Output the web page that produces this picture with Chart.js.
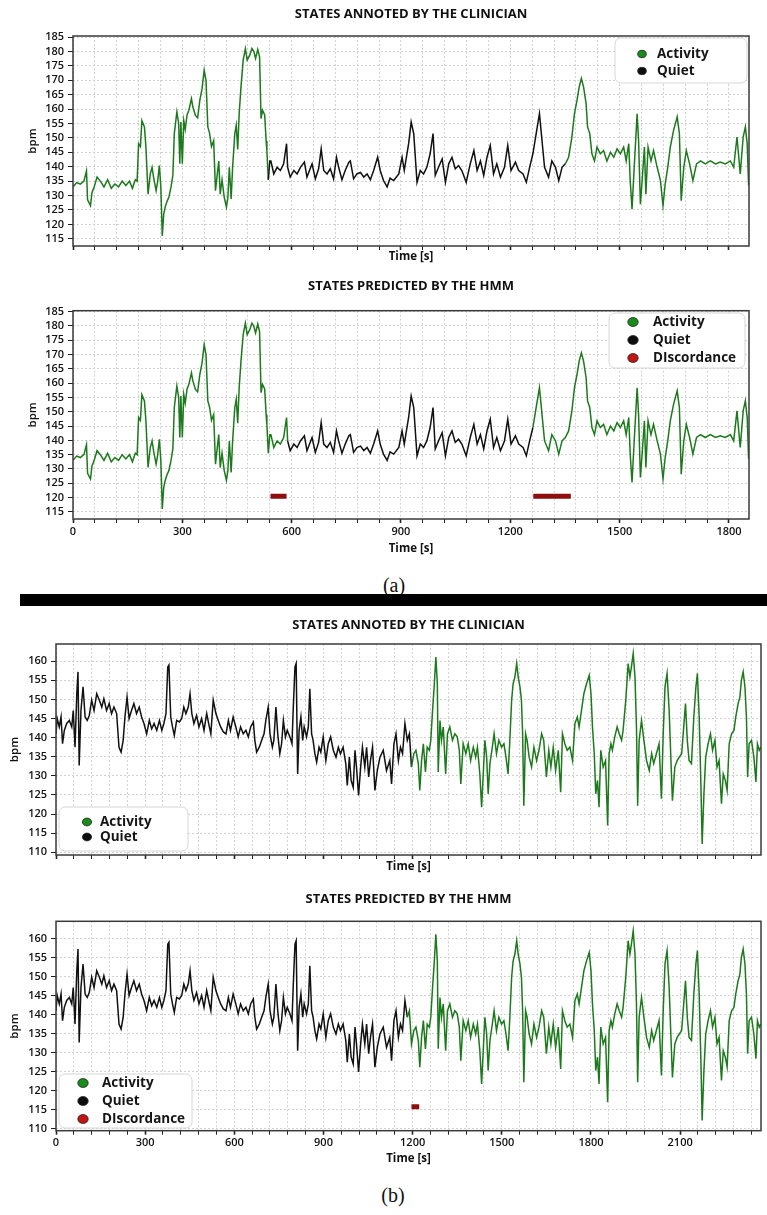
<!DOCTYPE html>
<html>
<head>
<meta charset="utf-8">
<script src="https://cdn.jsdelivr.net/npm/chart.js@4.4.0/dist/chart.umd.min.js"></script>
<style>
  body { margin: 0; background: #fff; width: 767px; height: 1215px; position: relative; overflow: hidden; }
  .box { position: absolute; left: 0; width: 767px; }
  .cap { position: absolute; font-family: "Liberation Serif", serif; font-size: 20px; color: #111; transform: translateX(-50%); }
  #sep { position: absolute; left: 20px; top: 594px; width: 747px; height: 12px; background: #000; }
</style>
</head>
<body>
<div class="box" style="top:0;height:270px"><canvas id="a1"></canvas></div>
<div class="box" style="top:270px;height:290px"><canvas id="a2"></canvas></div>
<div class="cap" style="left:394px;top:574px">(a)</div>
<div id="sep"></div>
<div class="box" style="top:608px;height:272px"><canvas id="b1"></canvas></div>
<div class="box" style="top:880px;height:290px"><canvas id="b2"></canvas></div>
<div class="cap" style="left:393px;top:1184px">(b)</div>

<script>
// ---- record (a) : heart rate, time in s
var aTime = [0, 10, 20, 30, 37, 40, 48, 52, 58, 66, 75, 85, 95, 105, 115, 125, 135, 145, 155, 163,
  171, 176, 180, 185, 189, 196, 200, 206, 212, 217, 221, 228, 232, 237, 241, 245, 249, 253, 258, 263,
  269, 274, 278, 285, 290, 293, 296, 300, 304, 308, 313, 318, 325, 329, 336, 342, 348, 354, 360, 365,
  370, 375, 380, 386, 391, 395, 400, 404, 409, 415, 421, 425, 429, 434, 438, 444, 448, 452, 456, 461,
  467, 473, 478, 485, 491, 496, 501, 507, 512, 516, 520, 526, 530, 532, 536, 540, 543, 551, 560, 569,
  578, 586, 589, 596, 606, 615, 624, 635, 642, 656, 665, 674, 681, 688, 697, 706, 715, 723, 729, 738,
  747, 757, 761, 770, 779, 789, 798, 807, 816, 825, 836, 843, 852, 862, 870, 880, 894, 903, 909, 921,
  928, 935, 944, 953, 962, 971, 980, 988, 994, 1003, 1013, 1022, 1031, 1040, 1049, 1058, 1067, 1079, 1090, 1100,
  1109, 1118, 1127, 1136, 1145, 1154, 1163, 1173, 1184, 1193, 1202, 1214, 1223, 1235, 1244, 1253, 1262, 1271, 1280, 1287,
  1294, 1305, 1314, 1324, 1333, 1342, 1351, 1360, 1369, 1376, 1383, 1389, 1395, 1401, 1408, 1412, 1418, 1424, 1431, 1438,
  1447, 1456, 1465, 1475, 1484, 1493, 1502, 1511, 1518, 1525, 1529, 1534, 1540, 1548, 1552, 1557, 1563, 1568, 1572, 1578,
  1586, 1593, 1603, 1612, 1619, 1625, 1632, 1639, 1648, 1658, 1664, 1669, 1676, 1683, 1692, 1701, 1711, 1722, 1735, 1749,
  1763, 1776, 1790, 1804, 1813, 1822, 1831, 1839, 1845, 1850, 1854];
var aBpm = [133, 134.5, 134, 135, 138.5, 128.5, 126.5, 131, 133, 136.4, 135, 133, 135.5, 132.5, 134, 133, 135, 133.5, 135, 132.5,
  135.5, 135, 148, 147, 156, 153.8, 147, 130.5, 137.5, 139.8, 136.4, 131.7, 134.6, 140.4, 133, 116, 123.6, 126, 128, 129.4,
  133, 137, 151.5, 159, 155, 141, 155.5, 141, 156, 153, 158, 159.6, 163.6, 160.7, 157.8, 157, 163, 167, 173.5, 170,
  153.8, 151.5, 147, 149, 131.7, 136.4, 142, 130.5, 135.5, 129.4, 126, 129.4, 139.8, 128.8, 139.8, 151.5, 154.4, 146, 158.4, 167.7,
  177, 181, 177, 178.7, 181, 180, 177.6, 180.7, 178, 156.7, 159.6, 158, 149, 145.6, 135.5, 142, 142, 137.5, 139.8, 138.7,
  141, 148, 139.8, 136.4, 138.7, 137.5, 139.8, 141.6, 136.4, 141, 135.8, 139.3, 146.2, 138.7, 137.5, 139.3, 135.8, 143.3, 139.8, 135.5,
  138.7, 141.6, 142, 135.8, 137.5, 138, 136.4, 137.5, 135.5, 138.7, 143.3, 138.7, 135.2, 133, 136, 135.2, 137.5, 143.3, 138.7, 148,
  155.5, 151.5, 134.6, 138.7, 137.5, 139.8, 144.5, 151.5, 137, 139.8, 142.7, 134.6, 141, 143.3, 139.3, 140.4, 138.7, 134.6, 141, 145.6,
  138.7, 142, 137, 143.3, 147.4, 137.5, 141, 136.4, 139.8, 147.4, 138.7, 141.6, 138.7, 137.5, 134.6, 139.8, 144.5, 151.5, 158.4, 149,
  139.8, 136.4, 142, 139.8, 135.2, 139.8, 141, 143.3, 150.3, 158.4, 163, 167.7, 170.6, 167.7, 161.9, 153.8, 151.5, 144.5, 142, 146.8,
  144.5, 145.6, 142, 145, 143.3, 146.2, 144.5, 146.8, 142, 148, 135.2, 125.3, 139.8, 158.4, 149, 127, 137.5, 146.8, 130.5, 146.8,
  142, 145.6, 139.8, 135.2, 126.5, 134, 139.8, 146.8, 152.6, 157.3, 151.5, 128.2, 139.8, 145.6, 141, 135.2, 141, 142, 141, 142,
  141, 141.6, 141, 142, 139.8, 150.3, 137.5, 150.3, 153.8, 148, 133.5];
var aAnnotActivity = [[0, 536], [1355, 1860]];
var aPredActivity = [[0, 588], [1262, 1860]];
var aDiscord = [[542, 586], [1263, 1366]];
var aDiscordLevel = 120.5;
var aYTicks = [115, 120, 125, 130, 135, 140, 145, 150, 155, 160, 165, 170, 175, 180, 185];

// ---- record (b)
var bTime = [0, 4, 11, 17, 22, 28, 36, 45, 53, 58, 64, 70, 74, 78, 84, 91, 98, 105, 112, 120,
  128, 137, 146, 154, 161, 170, 179, 187, 195, 204, 212, 219, 226, 232, 239, 246, 254, 262, 271, 280,
  288, 296, 305, 314, 322, 330, 339, 348, 356, 363, 370, 376, 380, 386, 392, 398, 406, 415, 423, 430,
  437, 445, 451, 457, 464, 473, 481, 490, 498, 507, 516, 521, 529, 538, 546, 554, 563, 572, 580, 587,
  596, 605, 613, 621, 630, 639, 647, 655, 664, 669, 675, 684, 692, 700, 706, 714, 720, 728, 733, 740,
  746, 753, 759, 765, 772, 778, 787, 794, 798, 804, 808, 813, 818, 824, 830, 835, 843, 849, 854, 860,
  865, 871, 877, 885, 891, 899, 908, 916, 924, 933, 942, 950, 957, 966, 975, 980, 987, 993, 1000, 1006,
  1011, 1018, 1025, 1031, 1039, 1045, 1052, 1058, 1065, 1073, 1081, 1090, 1101, 1112, 1123, 1129, 1137, 1144, 1152, 1159,
  1166, 1174, 1182, 1189, 1196, 1204, 1211, 1219, 1224, 1230, 1236, 1243, 1249, 1256, 1261, 1267, 1273, 1278, 1283, 1286,
  1292, 1297, 1303, 1311, 1317, 1325, 1334, 1342, 1350, 1357, 1362, 1370, 1379, 1387, 1395, 1404, 1412, 1418, 1426, 1432,
  1437, 1443, 1449, 1454, 1460, 1468, 1474, 1482, 1490, 1499, 1507, 1514, 1521, 1527, 1533, 1538, 1544, 1550, 1555, 1561,
  1566, 1570, 1574, 1580, 1585, 1592, 1600, 1608, 1617, 1625, 1634, 1641, 1650, 1658, 1665, 1673, 1681, 1690, 1698, 1704,
  1712, 1720, 1729, 1738, 1746, 1754, 1760, 1768, 1776, 1785, 1794, 1800, 1805, 1811, 1816, 1822, 1827, 1833, 1841, 1849,
  1856, 1861, 1867, 1872, 1880, 1888, 1895, 1903, 1908, 1917, 1925, 1931, 1936, 1942, 1948, 1953, 1957, 1962, 1970, 1978,
  1987, 1996, 2004, 2011, 2020, 2029, 2037, 2043, 2049, 2056, 2063, 2069, 2074, 2082, 2090, 2097, 2105, 2112, 2118, 2124,
  2130, 2138, 2146, 2153, 2158, 2164, 2170, 2174, 2180, 2186, 2194, 2202, 2209, 2217, 2224, 2231, 2239, 2245, 2252, 2258,
  2265, 2273, 2281, 2287, 2295, 2301, 2306, 2312, 2318, 2323, 2327, 2332, 2340, 2348, 2355, 2360, 2366, 2371];
var bBpm = [141, 145, 142.8, 145.4, 138.4, 141.9, 143.7, 144.5, 142.8, 147.1, 137.5, 151.5, 157.2, 132.7, 147.1, 153.3, 145.4, 144.5, 145.8, 149.8,
  147.1, 151.5, 149.8, 148, 150.2, 147.1, 148.9, 146.3, 148, 146.3, 137.5, 136.2, 139.3, 145.4, 150.6, 145, 147.1, 148.9, 146.3, 148,
  145.4, 143.7, 141, 144.5, 142.3, 143.7, 141.9, 144.5, 141.9, 143.7, 146.3, 158.5, 159, 145.4, 142.8, 140.6, 144.5, 144.1, 145, 148,
  146.3, 148, 151.5, 146.3, 143.7, 145.8, 142.8, 145, 141.9, 146.3, 142.8, 141, 149.8, 146.3, 144.5, 142.8, 141.5, 141, 144.5, 141.9,
  145.4, 142.8, 140.2, 142.8, 141, 141.9, 140.2, 142.8, 144.1, 139.3, 136.2, 137.5, 139.3, 141, 144.5, 148, 141, 137.5, 139.3, 148,
  141, 135.8, 138.4, 144.5, 140.2, 141.9, 140.2, 138.4, 147.1, 158.5, 159.4, 130.5, 141.9, 145.4, 139.3, 142.8, 140.2, 142.8, 152.8, 141,
  139.3, 135.8, 133.6, 137.5, 136.2, 140.2, 134, 138.4, 140.2, 136.7, 134.9, 137.5, 135.8, 137.5, 133.2, 127.5, 134.9, 128.8, 127, 136.7,
  132.3, 124.9, 132.3, 137.5, 132.3, 137.5, 129.7, 134, 137.5, 126.2, 131.4, 134.9, 136.7, 131.4, 134, 127.9, 138.4, 141, 134, 137.5,
  135.8, 143.7, 139.3, 141, 132.3, 135.8, 136.7, 133.2, 126.2, 134, 138.4, 131, 137.5, 136.7, 139.3, 147.1, 154.1, 161.1, 154.1, 131,
  144.5, 139.3, 142.8, 130.5, 141, 142.8, 139.3, 141, 140.2, 136.7, 127.9, 138.4, 135.8, 138.4, 134, 137.5, 134.9, 137.5, 130.5, 121.8,
  129.7, 139.3, 134.9, 125.3, 133.2, 137.5, 141, 135.8, 139.3, 137.5, 138.4, 134.9, 130.5, 139.3, 149.8, 154.1, 155.9, 159.4, 155.9, 153.3,
  149.8, 141, 122.2, 141, 139.3, 134.9, 132.3, 137.5, 134, 136.7, 141, 139.3, 129.7, 136.7, 132.3, 137.5, 131.4, 136.7, 125.7, 141,
  138.4, 136.7, 137.5, 134, 143.7, 145.4, 142.8, 147.1, 151.5, 154.1, 156.3, 151.5, 142.8, 135.8, 125.3, 128.8, 121.8, 136.7, 132.3, 134,
  117, 135.8, 138.4, 136.7, 140.2, 142.8, 141, 139.3, 141.9, 149.8, 159.4, 155.9, 158.5, 162, 155.9, 142.8, 122.2, 139.3, 144.5, 139.3,
  134, 131.4, 135.8, 133.2, 135.8, 138.4, 124, 141, 153.3, 156.8, 147.1, 134, 123.5, 132.3, 134, 134.9, 135.8, 142.8, 148.9, 139.3,
  134, 133.2, 145.4, 153.3, 156.8, 145.4, 127, 112.2, 125.3, 134.9, 138.4, 141, 136.7, 139.3, 132.3, 134, 122.7, 130.5, 128.8, 126.2,
  138.4, 141, 141.9, 145.4, 148.9, 150.6, 155, 157.2, 153.3, 145.4, 129.7, 138.4, 139.3, 134.9, 128.4, 138.4, 136.7, 137.5];
var bAnnotActivity = [[1196, 2380]];
var bPredActivity = [[1184, 2380]];
var bDiscord = [[1196, 1222]];
var bDiscordLevel = 115.8;
var bYTicks = [110, 115, 120, 125, 130, 135, 140, 145, 150, 155, 160];

var xLabelStep = 300;
var xGridStep = 60;
var stateLabels = ['Activity', 'Quiet', 'DIscordance'];

var ACT = '#1c7a1c', QUIET = '#111111', DISC = '#8e0e0e';
var legendColors = ['#1a8c1a', '#0d0d0d', '#c41414'];
var tickFont = { family: 'Open Sans', size: 11, weight: '600' };

function inRanges(t, ranges) {
  for (var i = 0; i < ranges.length; i++) {
    if (t >= ranges[i][0] && t <= ranges[i][1]) return true;
  }
  return false;
}

// box around the plot + legend inside
var framePlugin = {
  id: 'frame',
  afterDatasetsDraw: function (chart, args, opts) {
    var ctx = chart.ctx, a = chart.chartArea;
    ctx.save();
    ctx.strokeStyle = '#3a3a3a';
    ctx.lineWidth = 1.5;
    ctx.strokeRect(a.left, a.top, a.right - a.left, a.bottom - a.top);

    var L = opts.legend;
    if (L) {
      ctx.beginPath();
      ctx.roundRect(L.x, L.y, L.w, L.h, 6);
      ctx.fillStyle = '#fff';
      ctx.fill();
      ctx.strokeStyle = '#d6d6d6';
      ctx.lineWidth = 1;
      ctx.stroke();
      ctx.font = 'bold 13.5px "Open Sans"';
      ctx.textBaseline = 'middle';
      for (var i = 0; i < L.rows.length; i++) {
        ctx.beginPath();
        ctx.ellipse(L.cx, L.rows[i], L.r, L.r * 0.85, 0, 0, Math.PI * 2);
        ctx.fillStyle = legendColors[i];
        ctx.fill();
        ctx.strokeStyle = '#222';
        ctx.lineWidth = 0.8;
        ctx.stroke();
        ctx.fillStyle = '#151515';
        ctx.fillText(stateLabels[i], L.tx, L.rows[i] + 0.5);
      }
    }
    ctx.restore();
  }
};

function makeChart(id, o) {
  var pts = o.time.map(function (t, i) { return { x: t, y: o.bpm[i] }; });
  var disc = [];
  (o.discord || []).forEach(function (d) {
    disc.push({ x: d[0], y: o.discLevel }, { x: d[1], y: o.discLevel }, { x: d[1] + 1, y: null });
  });
  var xTicks = [];
  for (var v = 0; v <= o.xMax; v += xGridStep) xTicks.push(v);

  return new Chart(document.getElementById(id), {
    type: 'line',
    data: {
      datasets: [
        {
          data: pts, borderWidth: 1.5, pointRadius: 0, tension: 0, borderColor: QUIET,
          segment: {
            borderColor: function (c) {
              return inRanges((c.p0.parsed.x + c.p1.parsed.x) / 2, o.activity) ? ACT : QUIET;
            }
          }
        },
        { data: disc, borderColor: DISC, borderWidth: 5, pointRadius: 0, spanGaps: false, borderCapStyle: 'butt' }
      ]
    },
    options: {
      animation: false,
      responsive: true,
      maintainAspectRatio: false,
      devicePixelRatio: 1,
      layout: { padding: { left: 0, right: o.padR, top: 0, bottom: 0 } },
      plugins: {
        legend: { display: false },
        tooltip: { enabled: false },
        title: {
          display: true, text: o.title, fullSize: false, color: '#111',
          font: { family: 'Open Sans', size: 13, weight: 'bold' },
          padding: { top: o.titlePad[0], bottom: o.titlePad[1] }
        },
        frame: { legend: o.legend }
      },
      scales: {
        x: {
          type: 'linear', min: 0, max: o.xMax,
          afterBuildTicks: function (s) { s.ticks = xTicks.map(function (v) { return { value: v }; }); },
          afterFit: function (s) { s.height = o.xAxisH; },
          ticks: {
            autoSkip: false, maxRotation: 0, padding: 2, color: '#111', font: tickFont,
            callback: function (v) { return o.xLabels && v % xLabelStep === 0 ? v : ''; }
          },
          grid: {
            color: '#d2d2d2', tickColor: '#222', tickLength: 4,
            tickWidth: function (c) { return c.tick && c.tick.value % xLabelStep === 0 ? 1.6 : 1; }
          },
          border: { display: false, dash: [2, 2] },
          title: {
            display: true, text: 'Time [s]', color: '#111',
            font: { family: 'Open Sans', size: 11.5, weight: 'bold' },
            padding: { top: 0, bottom: o.xTitlePad }
          }
        },
        y: {
          type: 'linear', min: o.yMin, max: o.yMax,
          afterBuildTicks: function (s) { s.ticks = o.yTicks.map(function (v) { return { value: v }; }); },
          afterFit: function (s) { s.width = o.yAxisW; },
          ticks: { autoSkip: false, padding: 4, color: '#111', font: tickFont },
          grid: { color: '#d2d2d2', tickColor: '#222', tickLength: 5 },
          border: { display: false, dash: [2, 2] },
          title: {
            display: true, text: 'bpm', color: '#111',
            font: { family: 'Open Sans', size: 11.5, weight: '600' },
            padding: { top: o.yTitlePad, bottom: 0 }
          }
        }
      }
    },
    plugins: [framePlugin]
  });
}

makeChart('a1', {
  time: aTime, bpm: aBpm, activity: aAnnotActivity, title: 'STATES ANNOTED BY THE CLINICIAN',
  xMax: 1855, yMin: 112.5, yMax: 185.35, yTicks: aYTicks, xLabels: false,
  padR: 18, yAxisW: 73, xAxisH: 24, titlePad: [6.2, 14.2], xTitlePad: 6.1, yTitlePad: 26.1,
  legend: { x: 615, y: 38, w: 132, h: 45, rows: [54, 71], cx: 642, tx: 657, r: 4.3 }
});
makeChart('a2', {
  time: aTime, bpm: aBpm, activity: aPredActivity, title: 'STATES PREDICTED BY THE HMM',
  discord: aDiscord, discLevel: aDiscordLevel,
  xMax: 1855, yMin: 112.5, yMax: 185.35, yTicks: aYTicks, xLabels: true,
  padR: 18, yAxisW: 73, xAxisH: 41, titlePad: [8.2, 16.9], xTitlePad: 4.6, yTitlePad: 26.1,
  legend: { x: 609, y: 43, w: 136, h: 55, rows: [52, 70, 88], cx: 633, tx: 653, r: 5.2 }
});
makeChart('b1', {
  time: bTime, bpm: bBpm, activity: bAnnotActivity, title: 'STATES ANNOTED BY THE CLINICIAN',
  xMax: 2372, yMin: 109.3, yMax: 164.5, yTicks: bYTicks, xLabels: false,
  padR: 6, yAxisW: 56, xAxisH: 25, titlePad: [9.2, 11.2], xTitlePad: 6.1, yTitlePad: 8.1,
  legend: { x: 59, y: 199, w: 129, h: 44, rows: [214, 229], cx: 87, tx: 100, r: 4.6 }
});
makeChart('b2', {
  time: bTime, bpm: bBpm, activity: bPredActivity, title: 'STATES PREDICTED BY THE HMM',
  discord: bDiscord, discLevel: bDiscordLevel,
  xMax: 2372, yMin: 109.5, yMax: 164.5, yTicks: bYTicks, xLabels: true,
  padR: 6, yAxisW: 56, xAxisH: 39.3, titlePad: [11.2, 14.5], xTitlePad: 4.1, yTitlePad: 8.1,
  legend: { x: 59, y: 194, w: 133, h: 54, rows: [203, 221, 239], cx: 83, tx: 102, r: 5.2 }
});
</script>
</body>
</html>
